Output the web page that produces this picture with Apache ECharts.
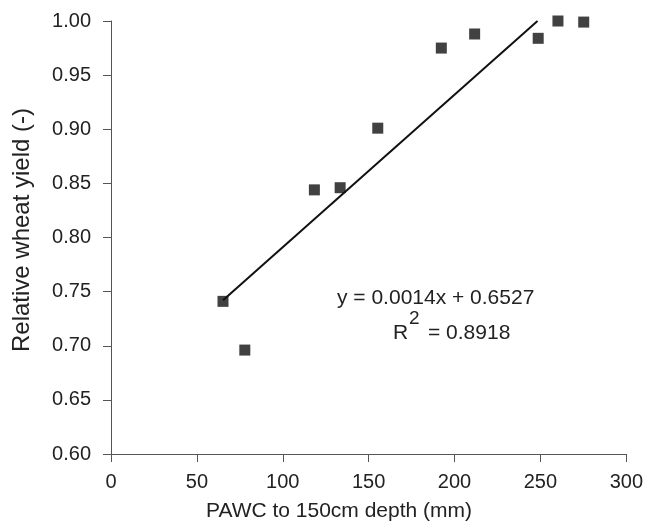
<!DOCTYPE html>
<html>
<head>
<meta charset="utf-8">
<script src="https://cdn.jsdelivr.net/npm/echarts@6/dist/echarts.min.js"></script>
<style>
html,body{margin:0;padding:0;background:#fff;}
#chart{width:646px;height:526px;}
</style>
</head>
<body>
<div id="chart"></div>
<script>
// Observed data: PAWC (mm) vs relative wheat yield
var pawc = [65.2, 77.9, 118.4, 133.4, 155.3, 192.3, 211.7, 248.7, 260.2, 275.2];
var relYield = [0.741, 0.696, 0.844, 0.846, 0.901, 0.975, 0.988, 0.984, 1.000, 0.999];
// Linear trend line end points (as drawn)
var trendX = [65.2, 248.3];
var trendY = [0.742, 1.000];
var xTicks = [0, 50, 100, 150, 200, 250, 300];
var yTicks = [0.60, 0.65, 0.70, 0.75, 0.80, 0.85, 0.90, 0.95, 1.00];
var xTitle = 'PAWC to 150cm depth (mm)';
var yTitle = 'Relative wheat yield (-)';
var eqLine1 = 'y = 0.0014x + 0.6527';
var eqR = 'R';
var eqSup = '2';
var eqRest = '= 0.8918';

var FONT = '"Liberation Sans", Arial, Helvetica, sans-serif';
var chart = echarts.init(document.getElementById('chart'), null, {renderer: 'canvas'});

var scatterData = pawc.map(function (x, i) { return [x, relYield[i]]; });
var trendData = trendX.map(function (x, i) { return [x, trendY[i]]; });

var axisLineStyle = {color: '#555', width: 1};
var TXT = '#222';

chart.setOption({
  animation: false,
  backgroundColor: '#fff',
  grid: {left: 111, right: 15, top: 21, bottom: 72, containLabel: false},
  xAxis: {
    type: 'value',
    min: xTicks[0], max: xTicks[xTicks.length - 1], interval: 50,
    axisLine: {show: true, lineStyle: axisLineStyle},
    axisTick: {show: true, length: 8, lineStyle: axisLineStyle},
    splitLine: {show: false},
    axisLabel: {color: TXT, fontSize: 20, fontFamily: FONT, margin: 18,
      formatter: function (v) { return String(v); }}
  },
  yAxis: {
    type: 'value',
    min: yTicks[0], max: yTicks[yTicks.length - 1], interval: 0.05,
    axisLine: {show: true, lineStyle: axisLineStyle},
    axisTick: {show: true, length: 8, lineStyle: axisLineStyle},
    splitLine: {show: false},
    axisLabel: {color: TXT, fontSize: 20, fontFamily: FONT, margin: 20,
      formatter: function (v) { return v.toFixed(2); }}
  },
  graphic: [
    {type: 'text', style: {text: xTitle, fill: TXT, font: '21px ' + FONT,
      x: 339, y: 511, textAlign: 'center', textVerticalAlign: 'middle'}},
    {type: 'text', x: 22, y: 230, rotation: Math.PI / 2,
      style: {text: yTitle, fill: TXT, font: '24px ' + FONT,
      x: 0, y: 0, textAlign: 'center', textVerticalAlign: 'middle'}},
    {type: 'text', style: {text: eqLine1, fill: TXT, font: '21px ' + FONT,
      x: 337, y: 298, textAlign: 'left', textVerticalAlign: 'middle'}},
    {type: 'text', style: {text: eqR, fill: TXT, font: '21px ' + FONT,
      x: 393, y: 333, textAlign: 'left', textVerticalAlign: 'middle'}},
    {type: 'text', style: {text: eqSup, fill: TXT, font: '19px ' + FONT,
      x: 409, y: 318.5, textAlign: 'left', textVerticalAlign: 'middle'}},
    {type: 'text', style: {text: eqRest, fill: TXT, font: '21px ' + FONT,
      x: 428, y: 333, textAlign: 'left', textVerticalAlign: 'middle'}}
  ],
  series: [
    {
      type: 'line',
      data: trendData,
      showSymbol: false,
      symbol: 'none',
      lineStyle: {color: '#111', width: 2},
      z: 2,
      silent: true
    },
    {
      type: 'scatter',
      data: scatterData,
      symbol: 'rect',
      symbolSize: 11,
      itemStyle: {color: '#111'},
      z: 3
    }
  ]
});
</script>
</body>
</html>
